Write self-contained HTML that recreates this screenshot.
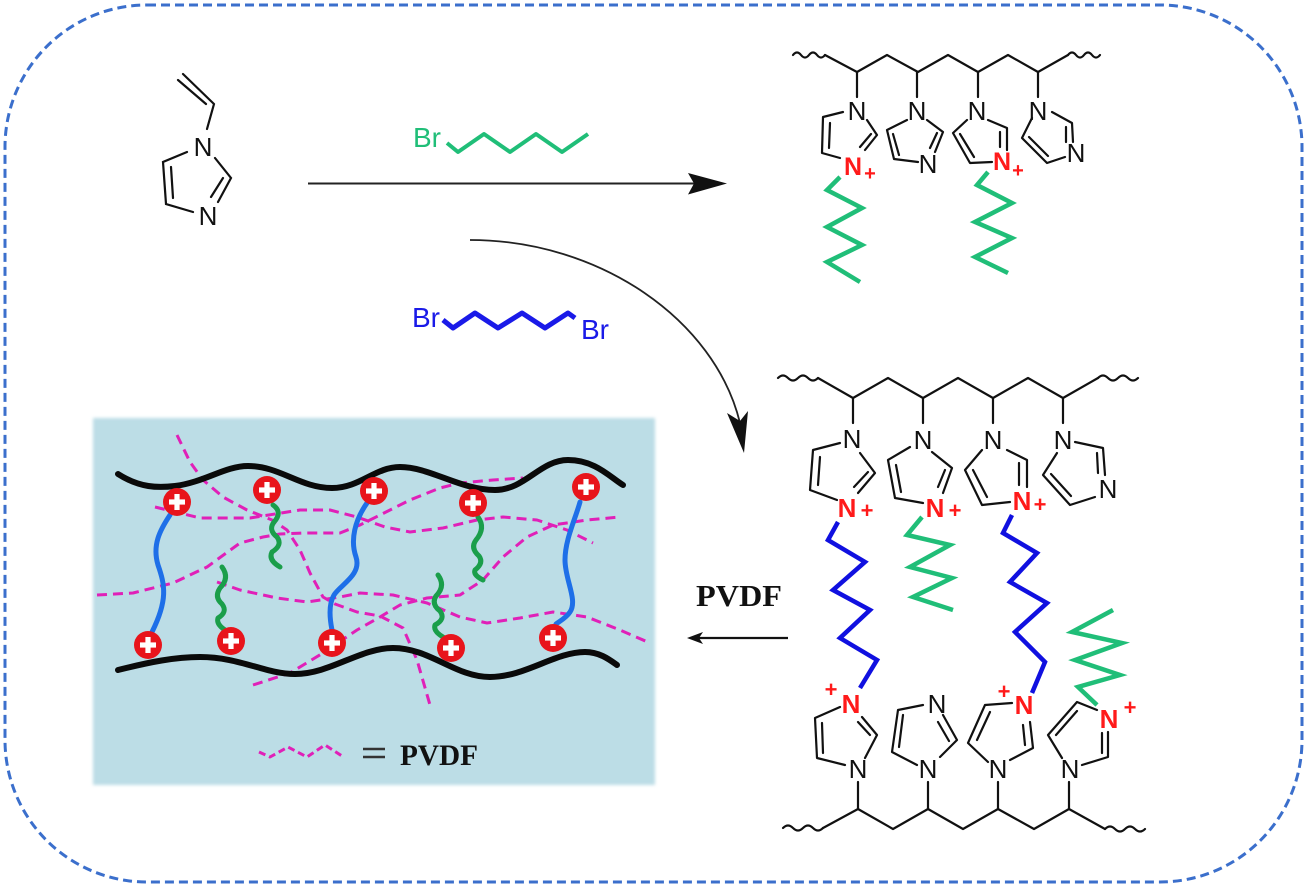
<!DOCTYPE html>
<html>
<head>
<meta charset="utf-8">
<style>
html,body{margin:0;padding:0;background:#fff;}
svg{display:block;}
text{font-family:"Liberation Sans",Arial,sans-serif;}
.serif{font-family:"Liberation Serif","Times New Roman",serif;font-weight:bold;}
</style>
</head>
<body>
<svg width="1304" height="886" viewBox="0 0 1304 886" xmlns="http://www.w3.org/2000/svg">
<defs>
<filter id="soft" x="-5%" y="-5%" width="110%" height="110%"><feGaussianBlur stdDeviation="1.5"/></filter>
</defs>
<rect width="1304" height="886" fill="#fff"/>
<!-- dashed rounded border -->
<rect x="5" y="5" width="1297" height="877" rx="142" ry="142" fill="none" stroke="#3b6fcc" stroke-width="3" stroke-dasharray="9 5"/>

<!-- ===== Vinylimidazole ===== -->
<g stroke="#111" stroke-width="2.2" fill="none" stroke-linecap="round">
<path d="M183,74 L214,104 M178,80 L206,104 M214,104 L207,129 M187,152 L163,162 L166,204 L193,212 M171,167 L173,198 M215,158 L231,178 L218,202 M223,178 L211,197"/>
</g>
<g font-size="26" fill="#111" text-anchor="middle">
<text x="203" y="156">N</text>
<text x="208" y="225">N</text>
</g>

<!-- main arrow -->
<line x1="308" y1="183.5" x2="696" y2="183.5" stroke="#222" stroke-width="2"/>
<polygon points="727,183.5 688,173 694,183.5 688,194.5" fill="#111"/>

<!-- green bromohexane -->
<text x="413" y="147" font-size="28" fill="#20be78">Br</text>
<path d="M447,143 L458,152 L484,134 L510,152 L536,134 L562,152 L588,134" stroke="#20be78" stroke-width="4" fill="none" stroke-linejoin="round"/>

<!-- curved arrow -->
<path d="M470,240 C600,240 715,320 740,423" stroke="#222" stroke-width="1.8" fill="none"/>
<polygon points="744,453 727,413 740,421 748,411" fill="#111"/>

<!-- blue dibromohexane -->
<text x="412" y="327" font-size="28" fill="#1a1ae8">Br</text>
<path d="M443,320 L453,328 L475,313 L498,328 L522,313 L545,328 L568,313 L575,318" stroke="#1a1ae8" stroke-width="5" fill="none" stroke-linejoin="round"/>
<text x="581" y="339" font-size="28" fill="#1a1ae8">Br</text>

<!-- ===== Top-right polymer ===== -->
<g stroke="#111" stroke-width="2.2" fill="none" stroke-linecap="round" stroke-linejoin="round">
<path d="M793,55 q4,-5 8,0 t8,0 t8,0 t8,0"/>
<path d="M1068,55 q4,-5 8,0 t8,0 t8,0 t8,0"/>
<path d="M825,55 L857,72 L887,55 L918,72 L948,55 L978,72 L1008,55 L1038,72 L1068,55"/>
<path d="M857,72 L857,97 M917,72 L917,97 M978,72 L978,97 M1038,72 L1038,97"/>
<path d="M843,112 L823,117 L822,153 L840,158 M830,123 L829,148 M867,120 L877,135 L865,150 M871,134 L860,147"/>
<path d="M907,120 L887,130 L894,159 L918,162 M893,134 L899,155 M927,120 L943,132 L935,152 M937,133 L930,148"/>
<path d="M967,120 L953,133 L970,163 L992,162 M960,134 L974,157 M988,120 L1007,128 L1007,150 M1000,132 L1000,147"/>
<path d="M1052,112 L1072,123 L1073,142 M1066,127 L1066,142 M1065,157 L1047,163 L1022,138 L1032,118 M1048,156 L1029,137"/>
</g>
<g font-size="26" fill="#111" text-anchor="middle">
<text x="857" y="120">N</text>
<text x="917" y="120">N</text>
<text x="977" y="120">N</text>
<text x="1038" y="120">N</text>
<text x="928" y="173">N</text>
<text x="1076" y="162">N</text>
</g>
<g fill="#ff1a1a" font-weight="bold" text-anchor="middle">
<text x="853" y="175" font-size="25">N</text>
<text x="870" y="180" font-size="20">+</text>
<text x="1002" y="170" font-size="25">N</text>
<text x="1018" y="177" font-size="20">+</text>
</g>
<g stroke="#20be78" stroke-width="4.5" fill="none" stroke-linejoin="miter">
<path d="M840,177 L827,190 L862,208 L827,227 L862,245 L827,262 L860,282"/>
<path d="M988,172 L977,185 L1012,203 L975,222 L1012,238 L975,257 L1008,273"/>
</g>

<!-- ===== Bottom-right crosslinked polymer ===== -->
<g stroke="#111" stroke-width="2.2" fill="none" stroke-linecap="round" stroke-linejoin="round">
<path d="M778,378 q5,-5 10,0 t10,0 t10,0 t10,0"/>
<path d="M1098,378 q5,-5 10,0 t10,0 t10,0 t10,0"/>
<path d="M818,378 L853,398 L888,378 L923,398 L958,378 L993,398 L1028,378 L1063,398 L1098,378"/>
<path d="M853,398 L853,423 M923,398 L923,423 M993,398 L993,423 M1063,398 L1063,423"/>
<path d="M840,443 L813,450 L810,490 L837,500 M820,457 L818,485 M860,453 L875,473 L858,493 M868,472 L854,487"/>
<path d="M910,447 L888,460 L895,498 L923,503 M896,465 L901,492 M932,452 L952,468 L943,493 M945,470 L938,487"/>
<path d="M982,450 L965,470 L982,505 L1010,502 M973,470 L987,497 M1007,450 L1027,460 L1027,487 M1019,463 L1019,485"/>
<path d="M1075,442 L1103,448 L1105,475 M1097,453 L1098,473 M1095,497 L1070,505 L1043,475 L1057,453 M1071,496 L1051,474"/>

<path d="M783,828 q5,-5 10,0 t10,0 t10,0 t10,0"/>
<path d="M1105,829 q5,-5 10,0 t10,0 t10,0 t10,0"/>
<path d="M823,828 L858,809 L893,829 L928,809 L963,829 L998,809 L1034,829 L1069,809 L1105,829"/>
<path d="M858,809 L858,782 M928,809 L928,782 M998,809 L998,782 M1069,809 L1069,782"/>
<path d="M845,765 L817,758 L815,718 L840,707 M823,753 L822,723 M865,758 L877,735 L862,717 M870,735 L858,722"/>
<path d="M917,765 L892,752 L898,710 L923,705 M899,747 L903,715 M940,757 L957,740 L943,715 M949,741 L938,722"/>
<path d="M988,762 L968,743 L985,705 L1012,703 M977,740 L990,712 M1010,760 L1033,748 L1030,722 M1025,745 L1023,725"/>
<path d="M1082,765 L1108,757 L1108,732 M1102,753 L1102,733 M1097,710 L1077,702 L1048,735 L1062,758 M1077,711 L1056,735"/>
</g>
<g font-size="26" fill="#111" text-anchor="middle">
<text x="852" y="448">N</text>
<text x="923" y="449">N</text>
<text x="993" y="449">N</text>
<text x="1063" y="449">N</text>
<text x="1108" y="498">N</text>
<text x="858" y="778">N</text>
<text x="928" y="778">N</text>
<text x="998" y="778">N</text>
<text x="1070" y="778">N</text>
<text x="937" y="713">N</text>
</g>
<g fill="#ff1a1a" font-weight="bold" text-anchor="middle">
<text x="847" y="517" font-size="26">N</text>
<text x="867" y="518" font-size="22">+</text>
<text x="935" y="517" font-size="26">N</text>
<text x="955" y="518" font-size="22">+</text>
<text x="1022" y="510" font-size="26">N</text>
<text x="1040" y="512" font-size="22">+</text>
<text x="851" y="713" font-size="26">N</text>
<text x="831" y="697" font-size="22">+</text>
<text x="1024" y="714" font-size="26">N</text>
<text x="1004" y="699" font-size="22">+</text>
<text x="1109" y="728" font-size="26">N</text>
<text x="1130" y="715" font-size="22">+</text>
</g>
<g fill="none" stroke-width="4.5" stroke-linejoin="miter">
<path d="M838,522 L828,540 L865,562 L833,590 L870,610 L840,638 L877,660 L860,688" stroke="#1010e0"/>
<path d="M1012,515 L1003,533 L1037,553 L1010,582 L1047,603 L1015,632 L1045,662 L1032,693" stroke="#1010e0"/>
<path d="M922,517 L907,535 L950,545 L910,567 L952,578 L913,597 L953,610" stroke="#20be78"/>
<path d="M1097,705 L1078,687 L1120,675 L1075,660 L1122,643 L1072,632 L1113,610" stroke="#20be78"/>
</g>

<!-- PVDF arrow -->
<text x="696" y="606" font-size="31" class="serif" fill="#111" textLength="86" lengthAdjust="spacingAndGlyphs">PVDF</text>
<line x1="788" y1="638" x2="699" y2="638" stroke="#111" stroke-width="2.2"/>
<polygon points="687,638 703,632 699,638 703,644" fill="#111"/>

<!-- ===== Blue box (membrane) ===== -->
<rect x="93" y="418" width="562" height="367" fill="#bcdde6" filter="url(#soft)"/>

<!-- pink dashed PVDF chains -->
<g fill="none" stroke="#e020b8" stroke-width="3" stroke-dasharray="10 6" stroke-linejoin="round">
<polyline points="177,435 190,462 203,480 223,497 247,510 272,520 287,530 300,550 310,573 323,597 335,604 357,612 380,616 403,628 417,660 430,705"/>
<polyline points="155,507 200,518 250,518 300,510 330,510 357,517 385,527 410,532 443,528 477,520 503,517 537,520 567,530 593,543"/>
<polyline points="97,595 133,593 173,583 207,567 240,543 263,537 280,534 303,533 340,533 360,525 380,515 410,500 440,488 460,483 493,480 523,478"/>
<polyline points="217,582 240,590 277,598 307,602 340,597 360,593 393,595 427,603 460,617 487,623 520,618 553,612 587,617 620,630 650,643"/>
<polyline points="253,685 290,673 323,653 357,630 380,617 400,605 427,598 460,595 483,580 503,557 527,537 553,525 587,520 620,517"/>
</g>

<!-- black backbones -->
<g fill="none" stroke="#0a0a0a" stroke-width="6" stroke-linecap="round">
<path d="M118,474 C140,488 158,488 175,486 C205,482 225,466 248,466 C280,466 300,488 332,488 C360,488 375,467 400,467 C430,467 460,490 495,490 C525,490 540,460 568,460 C595,460 610,477 623,485"/>
<path d="M118,670 C150,662 175,657 200,657 C240,657 265,674 295,674 C330,674 360,648 393,648 C430,648 455,677 490,677 C525,677 555,652 585,652 C600,652 610,660 617,665"/>
</g>

<!-- blue crosslinks -->
<g fill="none" stroke="#1e6fe8" stroke-width="5" stroke-linecap="round">
<path d="M170,515 C160,530 152,545 158,565 C165,585 168,600 152,632"/>
<path d="M367,503 C355,520 350,540 356,557 C362,575 340,585 334,595 C328,605 330,620 332,630"/>
<path d="M580,502 C575,520 565,540 565,560 C565,580 578,600 570,612 C566,618 560,621 556,624"/>
</g>
<!-- green side chains -->
<g fill="none" stroke="#1a9e4a" stroke-width="5" stroke-linecap="round" stroke-linejoin="round">
<path d="M273,505 Q283,512 274,522 Q268,530 277,537 Q283,545 272,552 Q268,560 280,567"/>
<path d="M222,567 Q230,578 220,588 Q214,597 222,604 Q228,612 218,618 Q216,624 225,630"/>
<path d="M478,517 Q486,528 476,540 Q470,548 479,556 Q484,563 475,570 Q473,575 483,580"/>
<path d="M438,575 Q446,586 436,596 Q431,604 440,611 Q446,619 435,625 Q433,631 443,637"/>
</g>

<!-- red cation circles -->
<g>
<g transform="translate(177,502)"><circle r="14" fill="#e8141b"/><rect x="-8" y="-2.6" width="16" height="5.2" fill="#fff"/><rect x="-2.6" y="-8" width="5.2" height="16" fill="#fff"/></g>
<g transform="translate(267,490)"><circle r="14" fill="#e8141b"/><rect x="-8" y="-2.6" width="16" height="5.2" fill="#fff"/><rect x="-2.6" y="-8" width="5.2" height="16" fill="#fff"/></g>
<g transform="translate(374,491)"><circle r="14" fill="#e8141b"/><rect x="-8" y="-2.6" width="16" height="5.2" fill="#fff"/><rect x="-2.6" y="-8" width="5.2" height="16" fill="#fff"/></g>
<g transform="translate(473,503)"><circle r="14" fill="#e8141b"/><rect x="-8" y="-2.6" width="16" height="5.2" fill="#fff"/><rect x="-2.6" y="-8" width="5.2" height="16" fill="#fff"/></g>
<g transform="translate(586,487)"><circle r="14" fill="#e8141b"/><rect x="-8" y="-2.6" width="16" height="5.2" fill="#fff"/><rect x="-2.6" y="-8" width="5.2" height="16" fill="#fff"/></g>
<g transform="translate(148,645)"><circle r="14" fill="#e8141b"/><rect x="-8" y="-2.6" width="16" height="5.2" fill="#fff"/><rect x="-2.6" y="-8" width="5.2" height="16" fill="#fff"/></g>
<g transform="translate(231,641)"><circle r="14" fill="#e8141b"/><rect x="-8" y="-2.6" width="16" height="5.2" fill="#fff"/><rect x="-2.6" y="-8" width="5.2" height="16" fill="#fff"/></g>
<g transform="translate(332,643)"><circle r="14" fill="#e8141b"/><rect x="-8" y="-2.6" width="16" height="5.2" fill="#fff"/><rect x="-2.6" y="-8" width="5.2" height="16" fill="#fff"/></g>
<g transform="translate(451,648)"><circle r="14" fill="#e8141b"/><rect x="-8" y="-2.6" width="16" height="5.2" fill="#fff"/><rect x="-2.6" y="-8" width="5.2" height="16" fill="#fff"/></g>
<g transform="translate(553,638)"><circle r="14" fill="#e8141b"/><rect x="-8" y="-2.6" width="16" height="5.2" fill="#fff"/><rect x="-2.6" y="-8" width="5.2" height="16" fill="#fff"/></g>
</g>

<!-- legend -->
<polyline points="259,752 270,757 288,747 307,757 325,745 342,756" fill="none" stroke="#e020b8" stroke-width="3" stroke-dasharray="7 4" stroke-linejoin="round"/>
<line x1="363" y1="749" x2="385" y2="749" stroke="#333" stroke-width="2.5"/>
<line x1="363" y1="757" x2="385" y2="757" stroke="#333" stroke-width="2.5"/>
<text x="400" y="765" font-size="30" class="serif" fill="#111" textLength="78" lengthAdjust="spacingAndGlyphs">PVDF</text>
</svg>
</body>
</html>
